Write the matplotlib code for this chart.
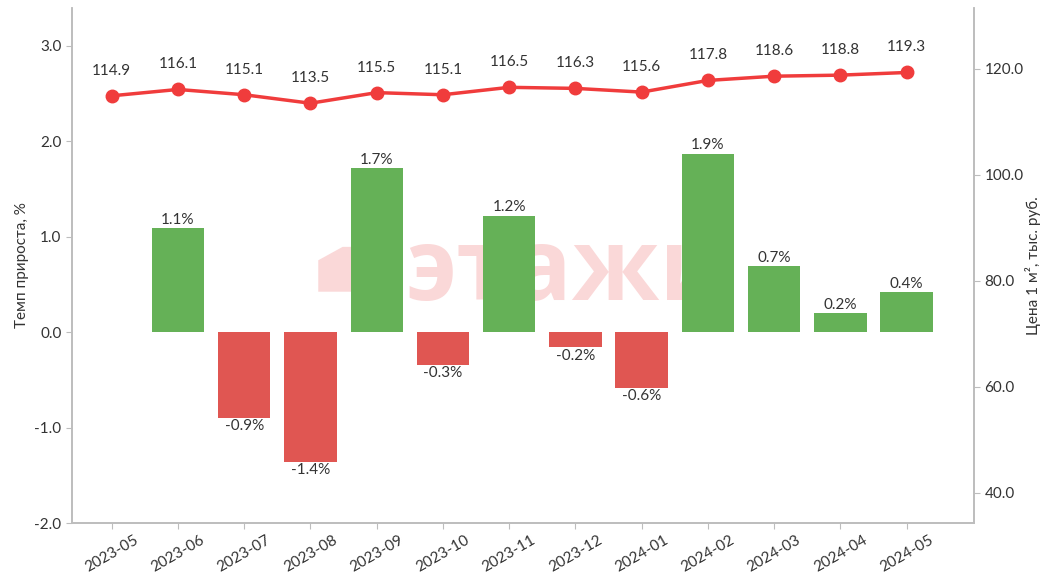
import numpy as np
import matplotlib.pyplot as plt
from matplotlib.patches import Polygon

plt.rcParams['font.family'] = ['Lato', 'DejaVu Sans']

months = ["2023-05", "2023-06", "2023-07", "2023-08", "2023-09", "2023-10", "2023-11",
          "2023-12", "2024-01", "2024-02", "2024-03", "2024-04", "2024-05"]
growth = [np.nan, 1.09, -0.90, -1.36, 1.72, -0.34, 1.22, -0.16, -0.58, 1.87, 0.69, 0.20, 0.42]
price = [114.9, 116.1, 115.1, 113.5, 115.5, 115.1, 116.5, 116.3, 115.6, 117.8, 118.6, 118.8, 119.3]

green = "#65b157"
red_bar = "#e05652"
red_line = "#f03c3c"
spine_c = "#bdbdbd"
txt_c = "#333333"

fig = plt.figure(figsize=(10.43, 5.75), dpi=100)
ax = fig.add_axes([0.069, 0.0904, 0.865, 0.896])
ax2 = ax.twinx()

x = np.arange(len(months))
g = np.array(growth)
colors = [green if v >= 0 else red_bar for v in np.nan_to_num(g)]

# водяной знак
ax.text(0.369, 0.433, "этажи", transform=ax.transAxes, fontsize=72, fontweight="bold",
        family="Open Sans", color="#f7b8b8", alpha=0.55, ha="left", va="baseline", zorder=0)
ax.add_patch(Polygon([(0.273, 0.449), (0.273, 0.51), (0.300, 0.536), (0.31, 0.536), (0.31, 0.449)],
                     closed=True, transform=ax.transAxes, color="#f7b8b8", alpha=0.55, zorder=0, lw=0))

ax.bar(x, np.nan_to_num(g), width=0.79, color=colors, zorder=2)
for xi, v in zip(x, growth):
    if np.isnan(v):
        continue
    if v >= 0:
        ax.annotate(f"{v:.1f}%", (xi, v), xytext=(0, 1), textcoords="offset points",
                    ha="center", va="bottom", fontsize=11, color=txt_c, zorder=3)
    else:
        ax.annotate(f"{v:.1f}%", (xi, v), xytext=(0, -1), textcoords="offset points",
                    ha="center", va="top", fontsize=11, color=txt_c, zorder=3)

ax2.plot(x, price, color=red_line, lw=2.5, marker="o", ms=9, zorder=3)
for xi, p in zip(x, price):
    ax2.annotate(f"{p:.1f}", (xi, p), xytext=(0, 13), textcoords="offset points",
                 ha="center", va="bottom", fontsize=11, color=txt_c)

ax.set_xlim(-0.6, 13.02)
ax.set_ylim(-2.0, 3.4)
ax2.set_ylim(34.3, 131.5)
ax.set_yticks([-2, -1, 0, 1, 2, 3])
ax.set_yticklabels([f"{t:.1f}" for t in [-2, -1, 0, 1, 2, 3]])
ax2.set_yticks([40, 60, 80, 100, 120])
ax2.set_yticklabels([f"{t:.1f}" for t in [40, 60, 80, 100, 120]])
ax.set_xticks(x)
ax.set_xticklabels(months, rotation=30, ha="center")

ax.set_ylabel("Темп прироста, %", fontsize=11, color=txt_c)
ax2.set_ylabel("Цена 1 м², тыс. руб.", fontsize=11, color=txt_c, labelpad=1)

for a in (ax, ax2):
    a.spines["top"].set_visible(False)
    for s in ("left", "right", "bottom"):
        a.spines[s].set_color(spine_c)
        a.spines[s].set_linewidth(1.2)
    a.tick_params(colors=spine_c, labelcolor=txt_c, labelsize=11, length=4)

plt.savefig("out.png", dpi=100)
